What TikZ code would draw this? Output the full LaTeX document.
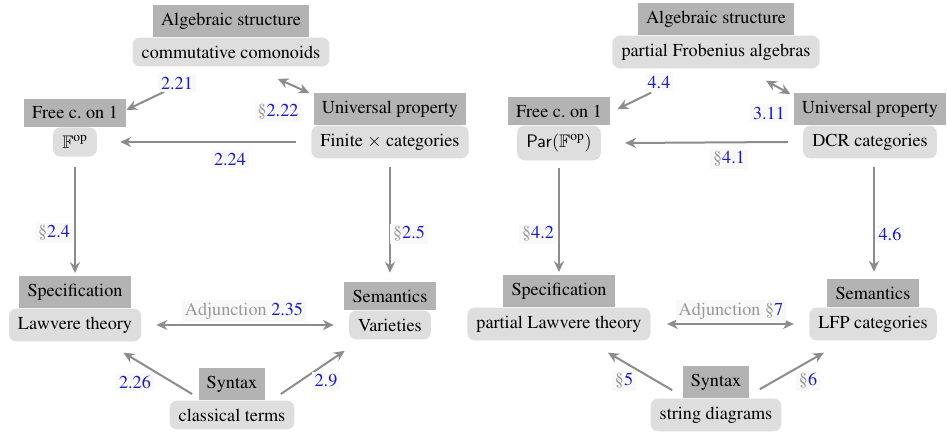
\documentclass[tikz,border=0pt]{standalone}
\usepackage[T1]{fontenc}
\usepackage{mathptmx}
\usepackage{amsmath,amssymb}
\usepackage{tikz}
\usetikzlibrary{arrows.meta,positioning}
\definecolor{hdgray}{HTML}{B3B3B3}
\definecolor{bdgray}{HTML}{DEDEDE}
\definecolor{argray}{HTML}{8C8C8C}
\definecolor{refblue}{HTML}{1A1ACC}
\newcommand{\sect}{\textcolor{gray!80}{\S}}
\newcommand{\adj}{\textcolor{gray!80}{Adjunction}}

\begin{document}
\begin{tikzpicture}[x=0.55pt,y=-0.55pt,
  head/.style={fill=hdgray,inner xsep=4.5pt,inner ysep=4.2pt},
  body/.style={fill=bdgray,rounded corners=4pt,inner xsep=5pt,inner ysep=4.5pt},
  arr/.style={draw=argray,line width=1.1pt},
  >={Stealth[length=6pt,width=5.5pt,inset=2pt]},
  lbl/.style={fill=gray!5,text=refblue,inner sep=1.5pt}]
  \useasboundingbox (0,0) rectangle (947,432);
  % left: cartesian case
  \node[body] (algC) at (231,52) {commutative comonoids};
  \node[head,above=0pt of algC] (algT) {Algebraic structure};
  \node[body] (freeC) at (75,142) {$\mathbb{F}^{\mathrm{op}}$};
  \node[head,above=0pt of freeC] (freeT) {Free c.\ on 1};
  \node[body] (univC) at (390,142) {Finite $\times$ categories};
  \node[head,above=0pt of univC] (univT) {Universal property};
  \node[body] (specC) at (75,325) {Lawvere theory};
  \node[head,above=0pt of specC] (specT) {Specification};
  \node[body] (semC) at (390,325) {Varieties};
  \node[head,above=0pt of semC] (semT) {Semantics};
  \node[body] (synC) at (232,415) {classical terms};
  \node[head,above=0pt of synC] (synT) {Syntax};
  \draw[arr,->] ([shift={(32,25)}]algC.south west) -- ([shift={(0,-3)}]freeT.east);
  \draw[arr,<->] ([shift={(-52,12)}]algC.south east) -- ([shift={(-4,0)}]univT.north west);
  \draw[arr,->] ([shift={(-15,0)}]univC.west) -- ([shift={(23,0)}]freeC.east);
  \draw[arr,->] ([shift={(0,10)}]freeC.south) -- ([shift={(0,-3)}]specT.north);
  \draw[arr,->] ([shift={(0,8)}]univC.south) -- ([shift={(0,-9)}]semT.north);
  \draw[arr,<->] ([shift={(15,0)}]specC.east) -- ([shift={(-15,0)}]semC.west);
  \draw[arr,->] ([shift={(-6,10)}]synT.west) -- ([shift={(-18,11)}]specC.south east);
  \draw[arr,->] ([shift={(15,10)}]synT.east) -- ([shift={(-4,11)}]semC.south west);
  \node[lbl] (l221) at (177,83) {2.21};
  \node[lbl] (l222) at (278,112) {\sect2.22};
  \node[lbl] (l224) at (230,159) {2.24};
  \node[lbl] (l24) at (54,233) {\sect2.4};
  \node[lbl] (l25) at (409,234) {\sect2.5};
  \node[lbl] (l235) at (244,311) {\adj{} 2.35};
  \node[lbl] (l226) at (135,382) {2.26};
  \node[lbl] (l29) at (326,381) {2.9};
  % right: partial case
  \node[body] (algC2) at (716,52) {partial Frobenius algebras};
  \node[head,above=0pt of algC2] (algT2) {Algebraic structure};
  \node[body] (freeC2) at (559,143) {$\mathsf{Par}(\mathbb{F}^{\mathrm{op}})$};
  \node[head,above=0pt of freeC2] (freeT2) {Free c.\ on 1};
  \node[body] (univC2) at (870,142) {DCR categories};
  \node[head,above=0pt of univC2] (univT2) {Universal property};
  \node[body] (specC2) at (559,324) {partial Lawvere theory};
  \node[head,above=0pt of specC2] (specT2) {Specification};
  \node[body] (semC2) at (873,324) {LFP categories};
  \node[head,above=0pt of semC2] (semT2) {Semantics};
  \node[body] (synC2) at (716,415) {string diagrams};
  \node[head,above=0pt of synC2] (synT2) {Syntax};
  \draw[arr,->] ([shift={(39,24)}]algC2.south west) -- ([shift={(7,-2)}]freeT2.east);
  \draw[arr,<->] ([shift={(-54,12)}]algC2.south east) -- ([shift={(-3,1)}]univT2.north west);
  \draw[arr,->] ([shift={(-15,0)}]univC2.west) -- ([shift={(24,0)}]freeC2.east);
  \draw[arr,->] ([shift={(0,7)}]freeC2.south) -- ([shift={(0,-3)}]specT2.north);
  \draw[arr,->] ([shift={(1,8)}]semT2.north |- univC2.south) -- ([shift={(1,-7)}]semT2.north);
  \draw[arr,<->] ([shift={(16,0)}]specC2.east) -- ([shift={(-15,0)}]semC2.west);
  \draw[arr,->] ([shift={(-10,8)}]synT2.west) -- ([shift={(-43,12)}]specC2.south east);
  \draw[arr,->] ([shift={(10,7)}]synT2.east) -- ([shift={(15,12)}]semC2.south west);
  \node[lbl] (l44) at (659,82) {4.4};
  \node[lbl] (l311) at (769,113) {3.11};
  \node[lbl] (l41) at (729,159) {\sect4.1};
  \node[lbl] (l42) at (538,234) {\sect4.2};
  \node[lbl] (l46) at (890,234) {4.6};
  \node[lbl] (l7) at (731,311) {\adj{} \sect7};
  \node[lbl] (l5) at (624,381) {\sect5};
  \node[lbl] (l6) at (808,381) {\sect6};
\end{tikzpicture}
\end{document}
